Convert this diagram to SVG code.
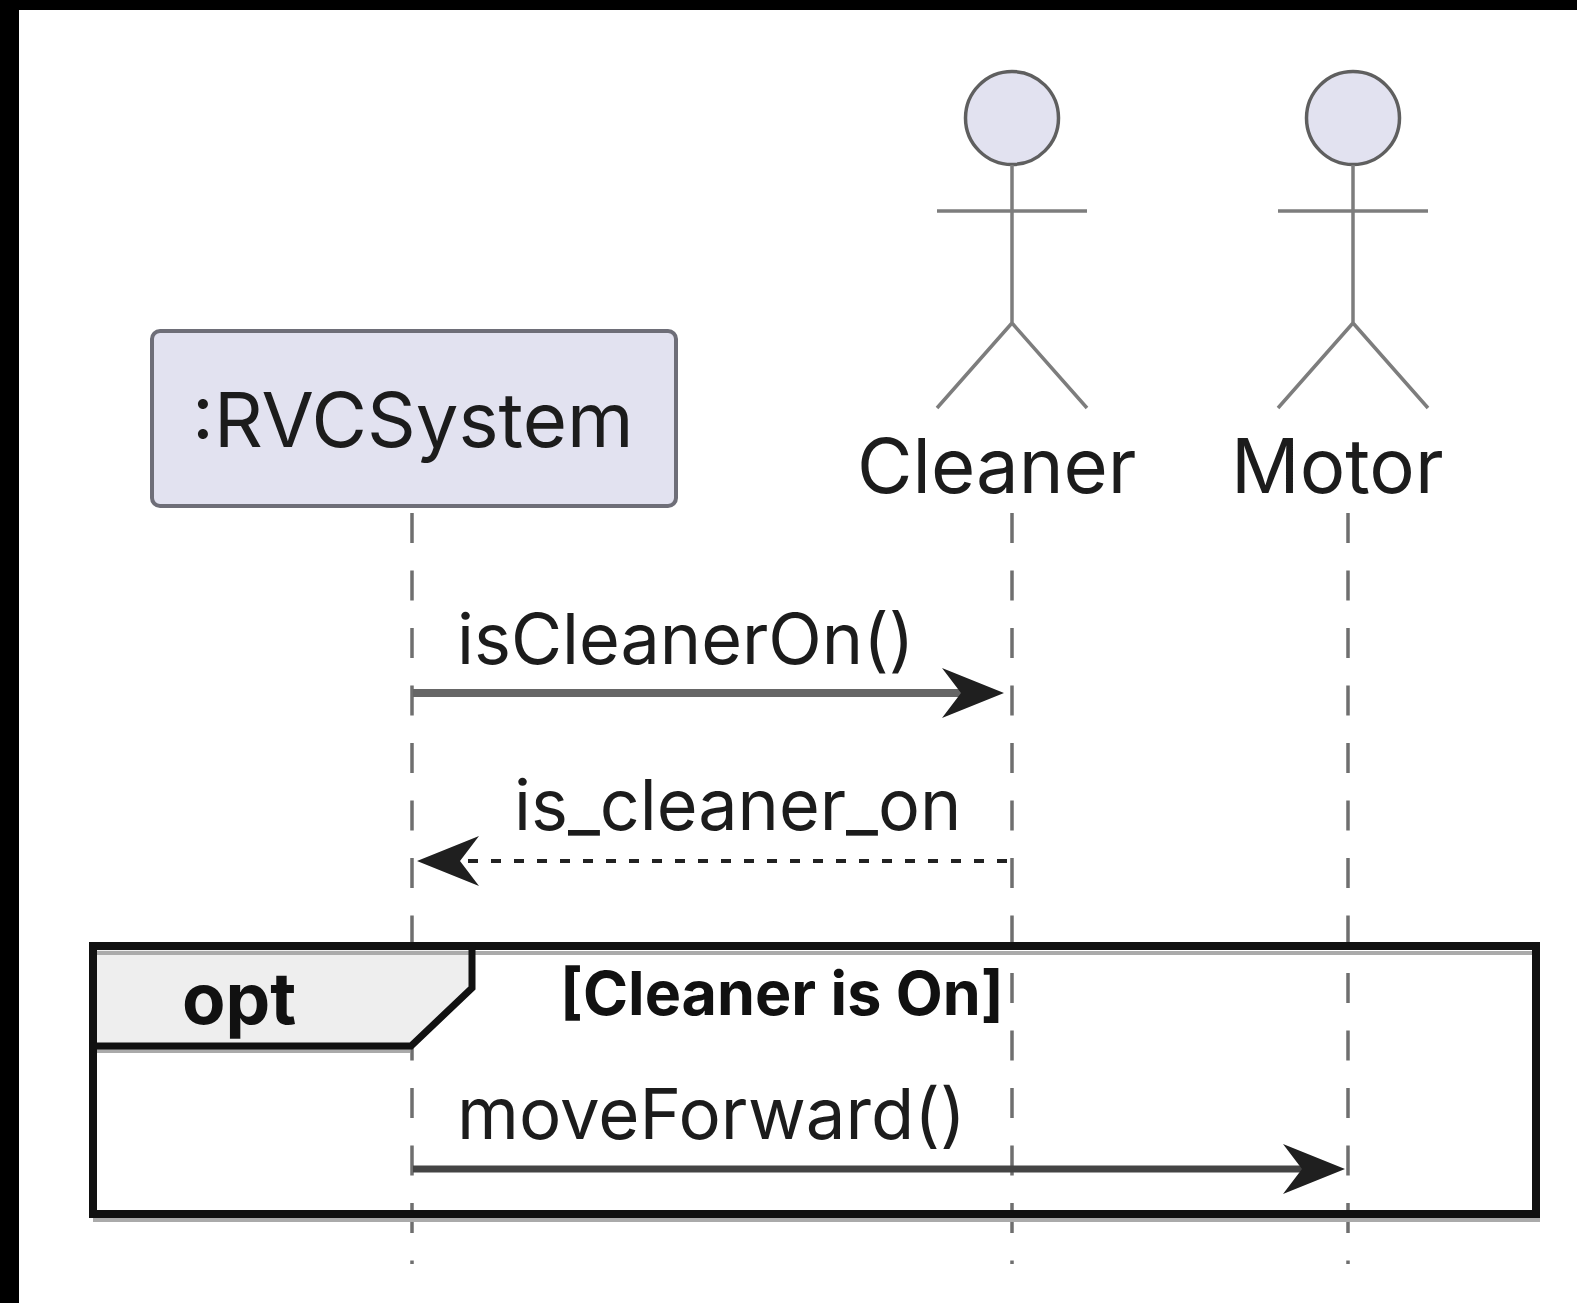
<svg xmlns="http://www.w3.org/2000/svg" width="1577" height="1303" viewBox="0 0 1577 1303">
<style>
text{font-family:Inter,"Liberation Sans",sans-serif;fill:#1c1c1c}
.t{font-size:76px}
.m{font-size:70px}
.b{font-weight:700;fill:#111}
.life{stroke:#6f6f6f;stroke-width:3.500;stroke-dasharray:30 27.500;fill:none}
.act{stroke:#7d7d7d;stroke-width:3.500;fill:none}
.head{fill:#e2e2f0;stroke:#5f5f5f;stroke-width:3.500}
.msg{fill:none}
.ret{stroke:#222;stroke-width:4;stroke-dasharray:10 13;fill:none}
.edge{stroke:#111;fill:none}
.shade{stroke:#aaa;stroke-width:4;fill:none}
</style>
<defs>
<marker id="arr" markerUnits="userSpaceOnUse" markerWidth="64" markerHeight="52" refX="48" refY="25" orient="auto"><path d="M0 0 L62 25 L0 50 L19 25 Z" fill="#1f1f1f"/></marker>
</defs>
<rect width="1577" height="1303" fill="#fff"/>
<rect x="0" y="0" width="1577" height="10" fill="#000"/>
<rect x="0" y="0" width="19" height="1303" fill="#000"/>
<g id="lifelines">
<path class="life" d="M412 513V1264"/>
<path class="life" d="M1012 513V1264"/>
<path class="life" d="M1348 513V1264"/>
</g>
<g id="opt-frame">
<path d="M93 947H473V988L411 1047H93Z" fill="#eee"/>
<path class="shade" d="M97 953H1532M97 1051H410M93 1220H1540"/>
<rect x="93" y="946" width="1443" height="268" class="edge" stroke-width="8"/>
<path d="M93 1046H411L472 988V946" class="edge" stroke-width="7"/>
<text class="b" x="182" y="1024" font-size="71">opt</text>
<text class="b" x="560" y="1015" font-size="61">[Cleaner is On]</text>
</g>
<g id="rvcsystem">
<rect x="152" y="331" width="524" height="175" rx="8" fill="#e2e2f0" stroke="#6e6e78" stroke-width="4"/>
<text class="t" x="192" y="447">:RVCSystem</text>
</g>
<g id="cleaner">
<circle class="head" cx="1012" cy="118" r="46.500"/>
<path class="act" d="M1012 165V323M937 211H1087M937 408L1012 323L1087 408"/>
<text class="t" x="857" y="493">Cleaner</text>
</g>
<g id="motor">
<circle class="head" cx="1353" cy="118" r="46.500"/>
<path class="act" d="M1353 165V323M1278 211H1428M1278 408L1353 323L1428 408"/>
<text class="t" x="1231" y="493">Motor</text>
</g>
<g id="connectors">
<path class="msg" stroke="#666" stroke-width="8" d="M413 693H990" marker-end="url(#arr)"/>
<path class="ret" d="M1007 861H431" marker-end="url(#arr)"/>
<path class="msg" stroke="#444" stroke-width="7" d="M413 1169H1331" marker-end="url(#arr)"/>
<text class="m" x="457" y="664">isCleanerOn()</text>
<text class="m" x="514" y="830">is_cleaner_on</text>
<text class="m" x="457" y="1139" font-size="71" style="font-size:70.700px">moveForward()</text>
</g>
</svg>
